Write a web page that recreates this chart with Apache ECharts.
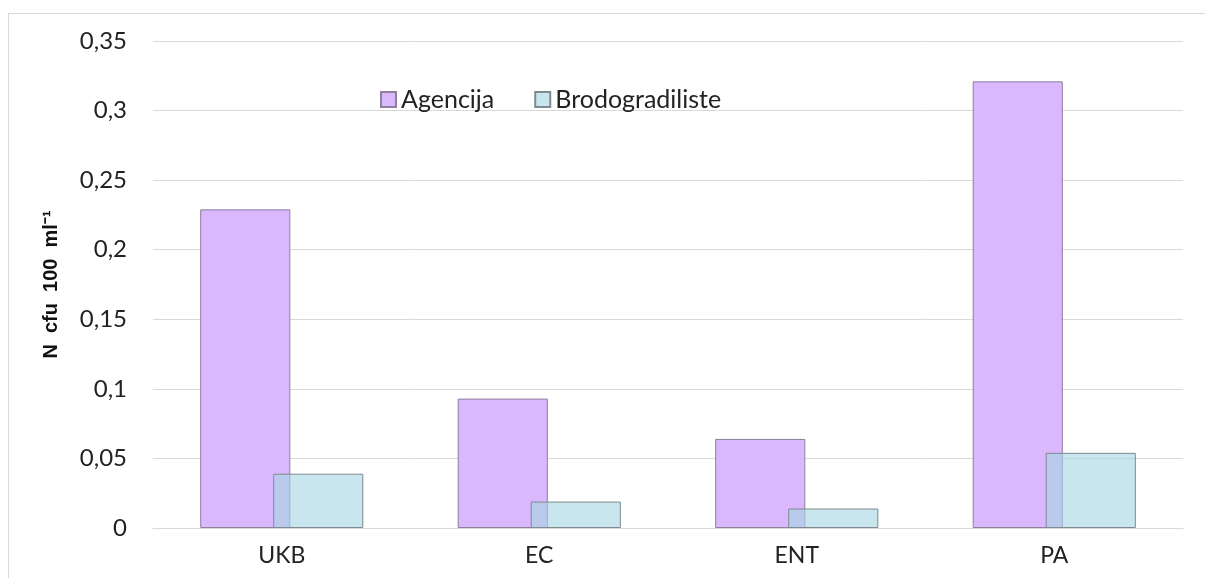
<!DOCTYPE html>
<html>
<head>
<meta charset="utf-8">
<title>Chart</title>
<script src="https://cdn.jsdelivr.net/npm/echarts@6/dist/echarts.min.js"></script>
<style>
  html, body {
    margin: 0;
    padding: 0;
    background: #fff;
  }
  #chartBars {
    width: 1205px;
    height: 578px;
  }
  .frame {
    position: absolute;
    left: 8px;
    top: 13px;
    width: 1200px;
    height: 570px;
    border-left: 1px solid #d9d9d9;
    border-top: 1px solid #d9d9d9;
    pointer-events: none;
  }
</style>
</head>
<body>
<div id="chartBars"></div>
<div class="frame"></div>
<script>
const categories = ['UKB', 'EC', 'ENT', 'PA'];
const legendData = ['Agencija', 'Brodogradiliste'];
const agencijaData = [0.229, 0.093, 0.064, 0.321];
const brodData = [0.039, 0.019, 0.014, 0.054];

let option = {
  animation: false,
  grid: {
    left: 153,
    right: 22,
    top: 41,
    bottom: 50
  },
  legend: {
    data: legendData,
    icon: 'rect',
    left: 375,
    top: 82,
    itemWidth: 15,
    itemHeight: 15,
    itemGap: 40,
    textStyle: {
      color: '#222',
      fontSize: 25,
      fontFamily: 'Lato'
    }
  },
  xAxis: {
    type: 'category',
    data: categories,
    axisTick: { show: false },
    axisLine: {
      lineStyle: { color: '#d9d9d9' }
    },
    axisLabel: {
      color: '#222',
      fontSize: 23,
      fontFamily: 'Lato',
      margin: 16
    }
  },
  yAxis: {
    type: 'value',
    min: 0,
    max: 0.35,
    interval: 0.05,
    name: 'N  cfu  100  ml\u207B\u00B9',
    nameLocation: 'middle',
    nameGap: 92,
    nameTextStyle: {
      color: '#111',
      fontSize: 20,
      fontWeight: 'bold',
      fontFamily: 'Liberation Sans'
    },
    axisLine: { show: false },
    axisTick: { show: false },
    axisLabel: {
      color: '#222',
      fontSize: 24,
      fontFamily: 'Lato',
      margin: 26,
      formatter: function(v) {
        return String(+v.toFixed(2)).replace('.', ',');
      }
    },
    splitLine: {
      lineStyle: { color: '#d9d9d9' }
    }
  },
  series: [
    {
      name: legendData[0],
      type: 'bar',
      data: agencijaData,
      barWidth: '35%',
      barGap: '-19%',
      itemStyle: {
        color: '#d9b8fd',
        borderColor: '#8e7f9c',
        borderWidth: 1
      }
    },
    {
      name: legendData[1],
      type: 'bar',
      data: brodData,
      barWidth: '35%',
      barGap: '-19%',
      itemStyle: {
        color: 'rgba(165,213,227,0.6)',
        borderColor: '#7e8a8e',
        borderWidth: 1
      }
    }
  ]
};

var chartBars = echarts.init(document.getElementById('chartBars'));
chartBars.setOption(option);
window.addEventListener('resize', () => {
  chartBars.resize();
});
</script>
</body>
</html>
